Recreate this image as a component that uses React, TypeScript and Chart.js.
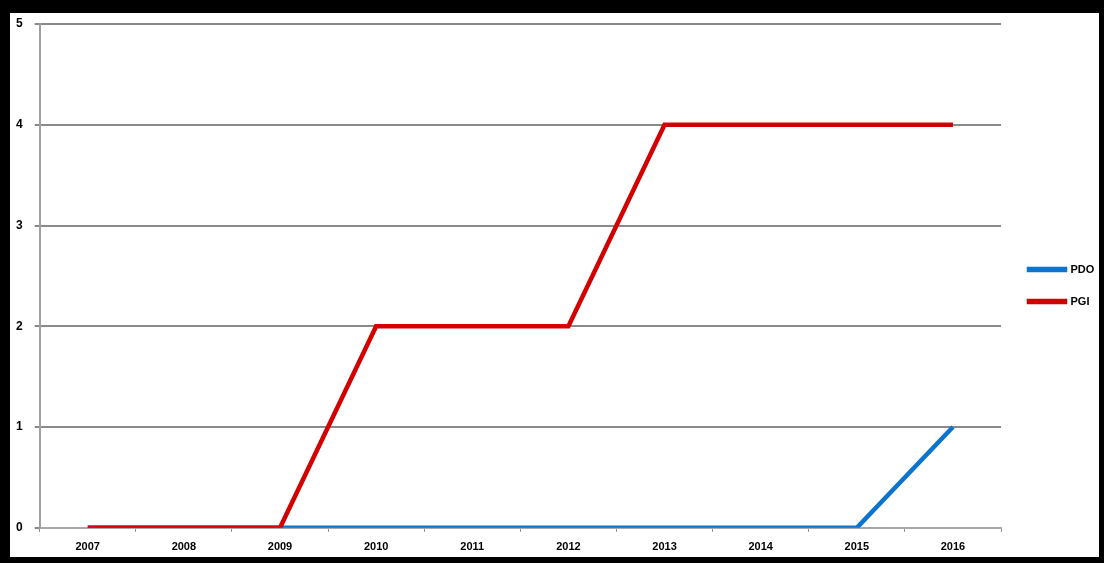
import React, { useEffect, useRef } from "react";
import { Chart, registerables } from "chart.js";

Chart.register(...registerables);

const years = ["2007", "2008", "2009", "2010", "2011", "2012", "2013", "2014", "2015", "2016"];
const pdoValues = [0, 0, 0, 0, 0, 0, 0, 0, 0, 1];
const pgiValues = [0, 0, 0, 2, 2, 2, 4, 4, 4, 4];
const yTicks = [0, 1, 2, 3, 4, 5];

const PDO_COLOR = "#0a74cf";
const PGI_COLOR = "#d40000";

export default function App() {
  const ref = useRef<HTMLCanvasElement | null>(null);

  useEffect(() => {
    if (!ref.current) return;
    const chart = new Chart(ref.current, {
      type: "line",
      data: {
        labels: years,
        datasets: [
          {
            label: "PDO",
            data: pdoValues,
            borderColor: PDO_COLOR,
            backgroundColor: PDO_COLOR,
            borderWidth: 4.5,
            pointRadius: 0,
            tension: 0,
            order: 2,
          },
          {
            label: "PGI",
            data: pgiValues,
            borderColor: PGI_COLOR,
            backgroundColor: PGI_COLOR,
            borderWidth: 4.5,
            pointRadius: 0,
            tension: 0,
            order: 1,
          },
        ],
      },
      options: {
        responsive: false,
        animation: false,
        layout: { padding: { left: 4, top: 24, bottom: 0, right: 0 } },
        plugins: {
          tooltip: { enabled: false },
          legend: {
            position: "right",
            align: "center",
            fullSize: false,
            maxWidth: 96,
            title: {
              display: true,
              text: " ",
              padding: 0,
              font: { family: "Liberation Sans", size: 16 },
            },
            labels: {
              boxWidth: 36,
              boxHeight: 1,
              padding: 21,
              color: "#000",
              font: { family: "Liberation Sans", size: 11, weight: "bold" },
              sort: (a: any, b: any) => a.datasetIndex - b.datasetIndex,
            },
          },
        },
        scales: {
          x: {
            offset: true,
            grid: {
              display: true,
              drawOnChartArea: false,
              drawTicks: true,
              tickLength: 4,
              offset: true,
              color: "#8a8a8a",
              lineWidth: 1,
            },
            border: { display: true, color: "#a8a8a8", width: 2 },
            ticks: {
              color: "#000",
              padding: 9,
              maxRotation: 0,
              autoSkip: false,
              font: { family: "Liberation Sans", size: 11, weight: "bold" },
            },
          },
          y: {
            min: 0,
            max: 5,
            afterBuildTicks: (s: any) => {
              s.ticks = yTicks.map((v) => ({ value: v }));
            },
            grid: {
              color: "#8a8a8a",
              lineWidth: 2,
              drawTicks: true,
              tickLength: 5,
            },
            border: { display: true, color: "#a0a0a0", width: 2 },
            ticks: {
              color: "#000",
              padding: 12,
              font: { family: "Liberation Sans", size: 12, weight: "bold" },
            },
          },
          y2: {
            position: "right",
            display: true,
            grid: { display: false, drawTicks: false },
            ticks: { display: false },
            border: { display: false },
            afterFit: (s: any) => {
              s.width = 7;
            },
          },
        },
      },
    } as any);
    return () => chart.destroy();
  }, []);

  return (
    <div
      style={{
        position: "fixed",
        left: 0,
        top: 0,
        width: 1104,
        height: 563,
        background: "#000",
        overflow: "hidden",
      }}
    >
      <div
        style={{
          position: "absolute",
          left: 10,
          top: 13,
          width: 1089,
          height: 544,
          background: "#fff",
        }}
      />
      <canvas
        ref={ref}
        width={1104}
        height={563}
        style={{ position: "absolute", left: 0, top: 0, width: 1104, height: 563 }}
      />
    </div>
  );
}
